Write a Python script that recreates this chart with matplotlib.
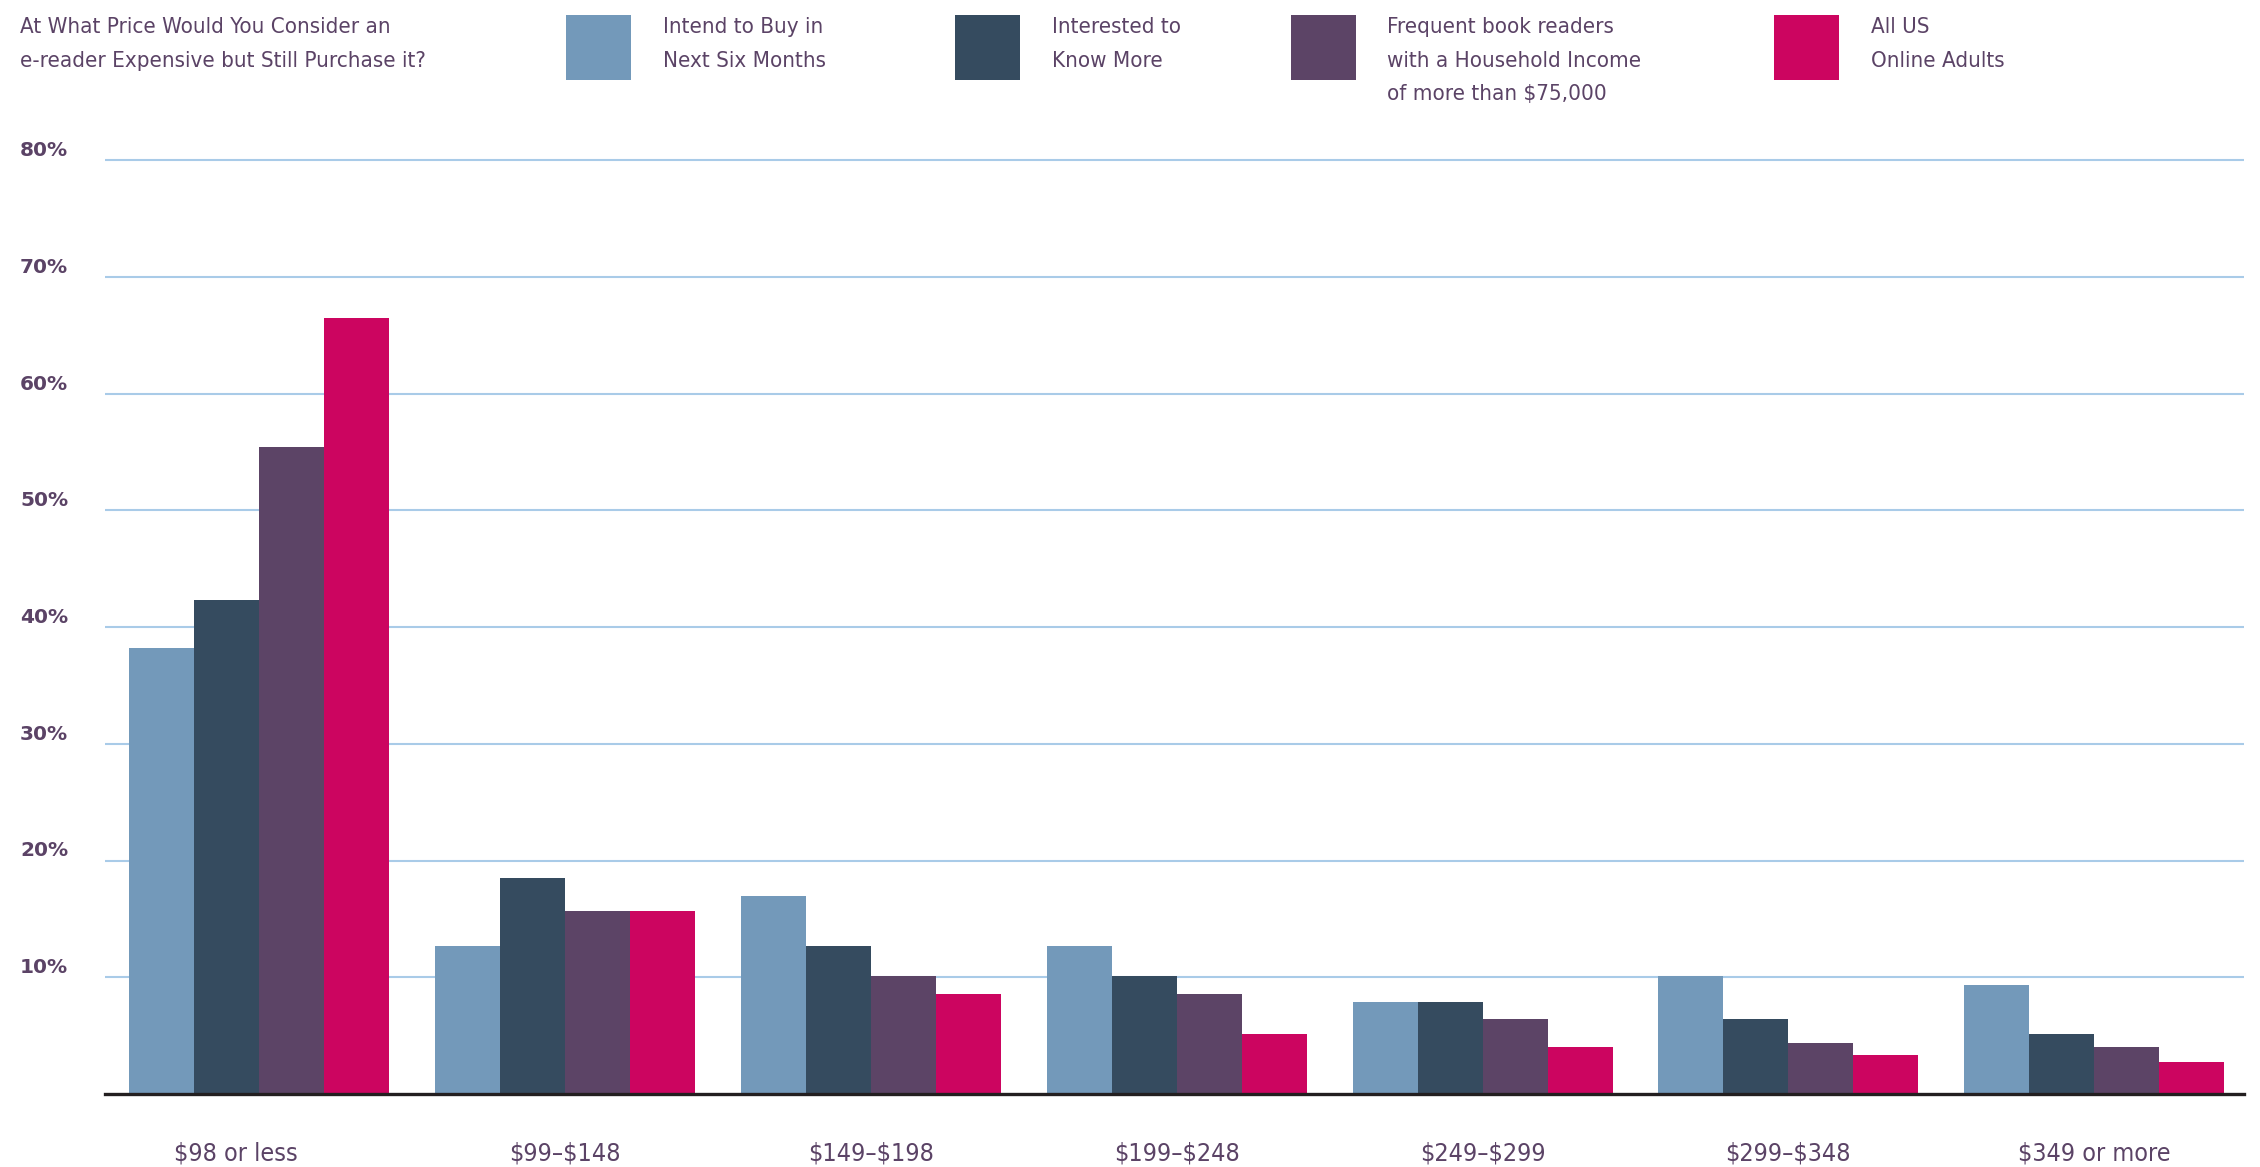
import matplotlib
matplotlib.use("Agg")
import matplotlib.pyplot as plt
import matplotlib.transforms as mtransforms
import numpy as np
from matplotlib.patches import Rectangle

# ---------------- data ----------------
categories = ["$98 or less", "$99–$148", "$149–$198", "$199–$248",
              "$249–$299", "$299–$348", "$349 or more"]
series_names = ["Intend to Buy in\nNext Six Months",
                "Interested to\nKnow More",
                "Frequent book readers\nwith a Household Income\nof more than $75,000",
                "All US\nOnline Adults"]
intend_to_buy = [38.2, 12.7, 17.0, 12.7, 7.9, 10.1, 9.3]
interested = [42.3, 18.5, 12.7, 10.1, 7.9, 6.4, 5.1]
frequent_readers = [55.4, 15.7, 10.1, 8.6, 6.4, 4.4, 4.0]
all_us_adults = [66.5, 15.7, 8.6, 5.1, 4.0, 3.3, 2.7]
yticks = [10, 20, 30, 40, 50, 60, 70, 80]
ytick_labels = ["10%", "20%", "30%", "40%", "50%", "60%", "70%", "80%"]
title = "At What Price Would You Consider an\ne-reader Expensive but Still Purchase it?"

# ---------------- style ----------------
colors = ["#7399BA", "#354B5F", "#5C4466", "#CC0560"]
text_color = "#5B4366"
grid_color = "#A9CBE8"
cond = dict(family="DejaVu Sans", stretch="condensed", weight="normal")


def esc(s):
    return s.replace("$", r"\$")


W, H = 2260, 1167
fig = plt.figure(figsize=(W / 100, H / 100), dpi=100)
ax_left, ax_right, ax_base = 105, 2244, 1094
ymax = 81
px_per_unit = (1094 - 160) / 80
ax_h = ymax * px_per_unit
ax = fig.add_axes([ax_left / W, 1 - ax_base / H, (ax_right - ax_left) / W, ax_h / H])

data = [intend_to_buy, interested, frequent_readers, all_us_adults]
x = np.arange(len(categories))
bw = 0.2125
for i, vals in enumerate(data):
    ax.bar(x + (i - 1.5) * bw, vals, width=bw, color=colors[i], zorder=3,
           linewidth=0)

ax.set_xlim(-0.505, 6.49)
ax.set_ylim(0, ymax)

# grid
ax.set_yticks(yticks)
ax.set_yticklabels(ytick_labels)
ax.yaxis.grid(True, color=grid_color, linewidth=1.5, zorder=0)
ax.set_axisbelow(True)
ax.tick_params(axis="y", length=0, pad=85 * 0.72, labelsize=14.5,
               labelcolor=text_color)
for lbl in ax.get_yticklabels():
    lbl.set_ha("left")
    lbl.set_va("bottom")
    lbl.set_fontweight("bold")
    lbl.set_family("DejaVu Sans")

ax.set_xticks(x)
ax.set_xticklabels([esc(c) for c in categories])
ax.tick_params(axis="x", length=0, pad=48 * 0.72, labelsize=18,
               labelcolor=text_color)
for lbl in ax.get_xticklabels():
    lbl.set_family(cond["family"])
    lbl.set_stretch(cond["stretch"])
    lbl.set_weight(cond["weight"])
# the first category label sits slightly left of its group in the original
first = ax.get_xticklabels()[0]
first.set_transform(first.get_transform() +
                    mtransforms.ScaledTranslation(-0.24, 0, fig.dpi_scale_trans))

for s in ["top", "right", "left"]:
    ax.spines[s].set_visible(False)
ax.spines["bottom"].set_color("#231F20")
ax.spines["bottom"].set_linewidth(2.4)
ax.spines["bottom"].set_zorder(4)

# title
fig.text(20 / W, 1 - 17 / H, title, ha="left", va="top", fontsize=16,
         color=text_color, linespacing=1.85, **cond)

# legend (manual)
sq_x = [566, 955, 1291, 1774]
tx_x = [663, 1052, 1387, 1871]
for i in range(4):
    fig.add_artist(Rectangle((sq_x[i] / W, 1 - 80 / H), 65 / W, 65 / H,
                             transform=fig.transFigure, color=colors[i],
                             linewidth=0))
    fig.text(tx_x[i] / W, 1 - 17 / H, esc(series_names[i]), ha="left",
             va="top", fontsize=16, color=text_color, linespacing=1.85,
             **cond)

fig.savefig("out.png", dpi=100, facecolor="white")
